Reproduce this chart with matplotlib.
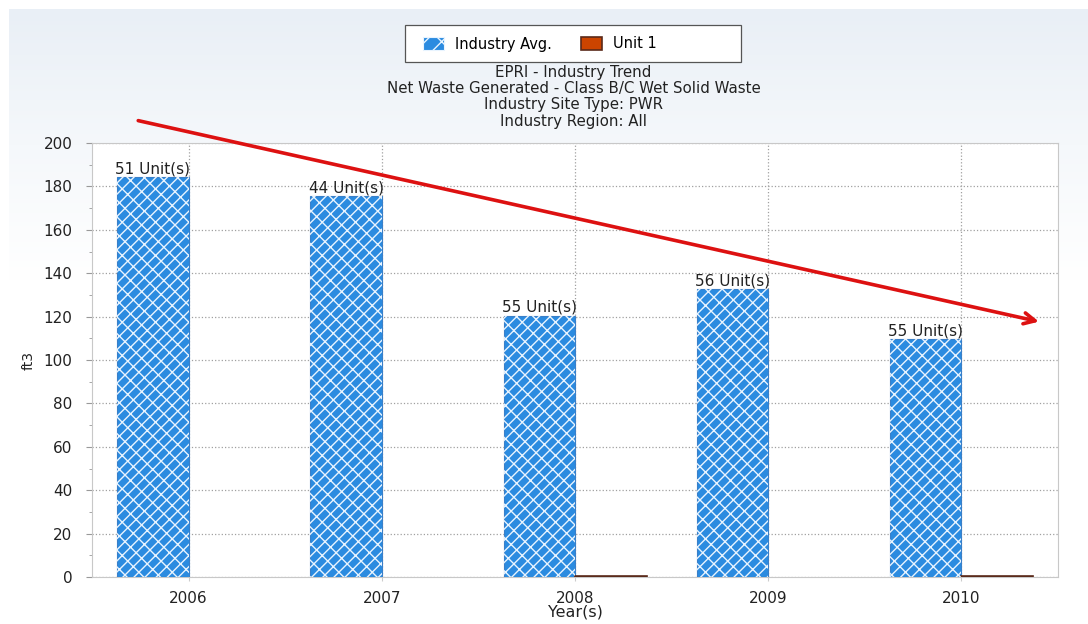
import numpy as np
import matplotlib
matplotlib.use("Agg")
import matplotlib.pyplot as plt
from matplotlib.ticker import MultipleLocator
from matplotlib.colors import LinearSegmentedColormap
from matplotlib.patches import Rectangle

plt.rcParams['font.family'] = ['DejaVu Sans']

years = ["2006", "2007", "2008", "2009", "2010"]
industry_avg = [184.5, 175.5, 120.5, 132.5, 109.5]
unit1 = [np.nan, np.nan, 0.6, np.nan, 0.6]
unit_counts = ["51 Unit(s)", "44 Unit(s)", "55 Unit(s)", "56 Unit(s)", "55 Unit(s)"]
title_lines = ["EPRI - Industry Trend",
               "Net Waste Generated - Class B/C Wet Solid Waste",
               "Industry Site Type: PWR",
               "Industry Region: All"]

fig = plt.figure(figsize=(10.88, 6.24), dpi=100)
fig.patch.set_facecolor('white')

# background gradient at top
bg = fig.add_axes([0.008, 0.55, 0.992, 0.435], zorder=-10)
grad = np.linspace(0, 1, 256).reshape(-1, 1)
cmap = LinearSegmentedColormap.from_list("g", ["#e9eff6", "#f5f8fb", "#ffffff"])
bg.imshow(grad, aspect='auto', cmap=cmap, extent=[0, 1, 0, 1], origin='upper')
bg.set_axis_off()

ax = fig.add_axes([0.0846, 0.0753, 0.8879, 0.6955])
ax.set_facecolor('white')
x = np.arange(len(years))
w = 0.37
blue = "#2b8be0"
ax.bar(x - w / 2, industry_avg, width=w, color=blue, edgecolor="#3a7fc8",
       linewidth=0.8, zorder=3, label="Industry Avg.")
ax.bar(x - w / 2, industry_avg, width=w, facecolor='none', edgecolor='#e8f4ff',
       hatch='///\\\\', linewidth=0, zorder=4)
ax.bar(x + w / 2, unit1, width=w, color="#cc4400", edgecolor="#5a2a1a",
       linewidth=1.2, zorder=3, label="Unit 1")

for xi, v, t in zip(x, industry_avg, unit_counts):
    ax.text(xi - w / 2, v + 0.3, t, ha='center', va='bottom', fontsize=11,
            color='#222222', zorder=6)

ax.set_xlim(-0.5, len(years) - 0.5)
ax.set_ylim(0, 200)
ax.set_xticks(x)
ax.set_xticklabels(years, fontsize=11, color='#222222')
ax.yaxis.set_major_locator(MultipleLocator(20))
ax.yaxis.set_minor_locator(MultipleLocator(10))
ax.tick_params(axis='y', labelsize=11, labelcolor='#222222', direction='out',
               length=4, color='#999999', pad=10)
ax.tick_params(axis='y', which='minor', length=2, color='#999999')
ax.tick_params(axis='x', length=3, color='#cccccc', pad=7)
ax.grid(True, axis='both', linestyle=':', color='#a0a0a0', linewidth=0.9, zorder=0)
for s in ax.spines.values():
    s.set_color('#c8c8c8')
ax.set_ylabel("ft3", fontsize=10, labelpad=6, color='#222222')
ax.set_xlabel("Year(s)", fontsize=11.5, labelpad=-1, color='#222222')

# title
fig.text(0.527, 1 - 65 / 624, "\n".join(title_lines), ha='center', va='top',
         fontsize=10.8, linespacing=1.1, color='#222222')

# legend frame and entries
fig.patches.append(Rectangle((405 / 1088, 1 - 62 / 624), 336 / 1088, 37 / 624,
                             transform=fig.transFigure, facecolor='white',
                             edgecolor='#555555', linewidth=0.9, zorder=1))
h, l = ax.get_legend_handles_labels()
leg = fig.legend(h, l, loc='center left', bbox_to_anchor=(423 / 1088, 1 - 44 / 624), ncol=2,
                 fontsize=10.5, frameon=False,
                 handlelength=1.44, handleheight=0.96, columnspacing=2.0,
                 handletextpad=0.75, borderpad=0.0, borderaxespad=0.0,
                 bbox_transform=fig.transFigure)
leg.set_zorder(2)
leg.legend_handles[0].set_hatch('//\\')
leg.legend_handles[0].set_edgecolor('#e8f4ff')

# trend arrow
ax.annotate("", xy=(0.983, 0.587), xytext=(0.045, 1.053),
            xycoords='axes fraction', textcoords='axes fraction',
            arrowprops=dict(arrowstyle='->,head_length=0.8,head_width=0.4',
                            color='#dd1111', lw=2.6), annotation_clip=False, zorder=10)

fig.savefig("out.png", dpi=100)
